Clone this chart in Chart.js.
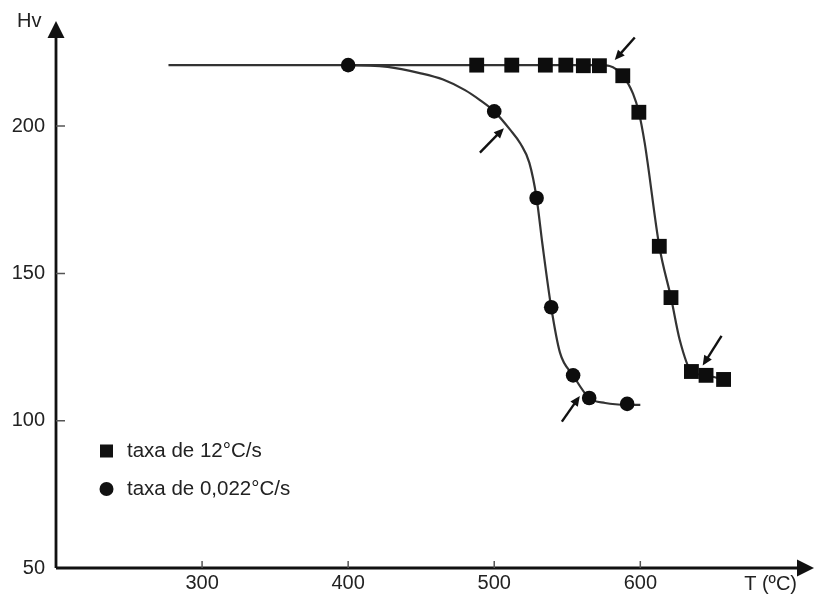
<!DOCTYPE html>
<html><head><meta charset="utf-8">
<script src="https://cdn.jsdelivr.net/npm/chart.js@4.4.0/dist/chart.umd.min.js"></script>
<style>html,body{margin:0;padding:0;background:#fff}#wrap{width:815px;height:595px;position:relative}</style>
</head><body><div id="wrap"><canvas id="c" width="815" height="595"></canvas></div>
<script>
const xTicks = [300, 400, 500, 600];
const yTicks = [50, 100, 150, 200];
const xTitle = 'T (ºC)';
const yTitle = 'Hv';
const fastLabel = 'taxa de 12°C/s';
const slowLabel = 'taxa de 0,022°C/s';
const fastT  = [488, 512, 535, 549, 561, 572, 588, 599, 613, 621, 635, 645, 657];
const fastHv = [220.7, 220.7, 220.7, 220.7, 220.5, 220.5, 217.1, 204.7, 159.2, 141.8, 116.7, 115.4, 114.0];
const slowT  = [400, 500, 529, 539, 554, 565, 591];
const slowHv = [220.7, 205.0, 175.6, 138.5, 115.4, 107.7, 105.7];
const fastCurveT  = [400, 572, 579, 588, 595, 599, 603, 605, 613, 621, 627, 635, 645, 654];
const fastCurveHv = [220.7, 220.7, 220.4, 217.1, 211.0, 204.7, 194.3, 187.6, 159.2, 141.8, 127.4, 116.7, 115.4, 114.4];
const slowCurveT  = [277, 400, 427, 449, 465, 480, 490, 500, 511, 518, 524, 529, 533, 539, 545, 554, 565, 576, 591, 600];
const slowCurveHv = [220.7, 220.7, 220.1, 218.0, 215.8, 212.2, 208.9, 205.0, 198.7, 194.0, 187.6, 175.6, 159.9, 138.5, 123.1, 115.4, 107.7, 106.0, 105.4, 105.4];
const arrowFrom = [[596.2, 230.1], [490.2, 191.0], [546.3, 99.7], [655.6, 128.8]];
const arrowTo   = [[582.5, 222.4], [506.6, 199.3], [558.6, 108.4], [642.7, 118.7]];

const FONT = '"Liberation Sans", Arial, sans-serif';
const pts = (xs, ys) => xs.map((x, i) => ({x, y: ys[i]}));

function arrowHead(ctx, x1, y1, x2, y2, len, half) {
  const a = Math.atan2(y2 - y1, x2 - x1);
  ctx.beginPath();
  ctx.moveTo(x2, y2);
  ctx.lineTo(x2 - len * Math.cos(a) + half * Math.sin(a), y2 - len * Math.sin(a) - half * Math.cos(a));
  ctx.lineTo(x2 - len * Math.cos(a) - half * Math.sin(a), y2 - len * Math.sin(a) + half * Math.cos(a));
  ctx.closePath();
  ctx.fill();
}

const decor = {
  id: 'decor',
  afterDatasetsDraw(chart) {
    const {ctx, chartArea: ca, scales: {x, y}} = chart;
    ctx.save();
    ctx.strokeStyle = '#111'; ctx.fillStyle = '#111';
    // axes
    ctx.lineWidth = 2.8;
    ctx.beginPath();
    ctx.moveTo(ca.left, ca.bottom); ctx.lineTo(ca.left, ca.top + 12);
    ctx.moveTo(ca.left, ca.bottom); ctx.lineTo(ca.right, ca.bottom);
    ctx.stroke();
    arrowHead(ctx, ca.left, ca.bottom, ca.left, ca.top - 2, 17, 8.5);
    arrowHead(ctx, ca.left, ca.bottom, ca.right + 13, ca.bottom, 17, 8.5);
    // tick marks (inward)
    ctx.lineWidth = 1.5; ctx.strokeStyle = '#555';
    ctx.beginPath();
    yTicks.forEach(v => { if (v > y.min) { const py = y.getPixelForValue(v); ctx.moveTo(ca.left, py); ctx.lineTo(ca.left + 9, py); } });
    xTicks.forEach(v => { const px = x.getPixelForValue(v); ctx.moveTo(px, ca.bottom); ctx.lineTo(px, ca.bottom - 7); });
    ctx.stroke();
    // annotation arrows
    ctx.strokeStyle = '#111'; ctx.fillStyle = '#111'; ctx.lineWidth = 2.4;
    arrowFrom.forEach((f, i) => {
      const x1 = x.getPixelForValue(f[0]), y1 = y.getPixelForValue(f[1]);
      const x2 = x.getPixelForValue(arrowTo[i][0]), y2 = y.getPixelForValue(arrowTo[i][1]);
      const a = Math.atan2(y2 - y1, x2 - x1);
      ctx.beginPath(); ctx.moveTo(x1, y1); ctx.lineTo(x2 - 6 * Math.cos(a), y2 - 6 * Math.sin(a)); ctx.stroke();
      arrowHead(ctx, x1, y1, x2, y2, 10, 4.5);
    });
    // titles
    ctx.fillStyle = '#222';
    ctx.font = '20px ' + FONT;
    ctx.textBaseline = 'middle';
    ctx.textAlign = 'left';
    ctx.fillText(yTitle, 17, 21);
    ctx.textAlign = 'right';
    ctx.fillText(xTitle, 797, 584);
    // legend
    ctx.font = '20.5px ' + FONT;
    ctx.textAlign = 'left';
    const lx = 106.5, ly1 = 451, ly2 = 489;
    ctx.fillStyle = '#111';
    ctx.fillRect(lx - 6.5, ly1 - 6.5, 13, 13);
    ctx.beginPath(); ctx.arc(lx, ly2, 7, 0, Math.PI * 2); ctx.fill();
    ctx.fillStyle = '#222';
    ctx.fillText(fastLabel, 127, ly1);
    ctx.fillText(slowLabel, 127, ly2);
    ctx.restore();
  }
};

new Chart(document.getElementById('c'), {
  type: 'scatter',
  data: {
    datasets: [
      {label: fastLabel, data: pts(fastT, fastHv), pointStyle: 'rect', pointRadius: 10.5, pointHoverRadius: 10.5,
       backgroundColor: '#0d0d0d', borderColor: '#0d0d0d', borderWidth: 0, showLine: false, order: 1},
      {label: slowLabel, data: pts(slowT, slowHv), pointStyle: 'circle', pointRadius: 7.3, pointHoverRadius: 7.3,
       backgroundColor: '#0d0d0d', borderColor: '#0d0d0d', borderWidth: 0, showLine: false, order: 1},
      {label: 'fastCurve', data: pts(fastCurveT, fastCurveHv), showLine: true, pointRadius: 0, borderColor: '#333',
       borderWidth: 2.2, cubicInterpolationMode: 'monotone', order: 2},
      {label: 'slowCurve', data: pts(slowCurveT, slowCurveHv), showLine: true, pointRadius: 0, borderColor: '#333',
       borderWidth: 2.2, cubicInterpolationMode: 'monotone', order: 2}
    ]
  },
  options: {
    responsive: false, animation: false, maintainAspectRatio: false,
    layout: {padding: {left: 0, right: 14, top: 18, bottom: 0}},
    plugins: {legend: {display: false}, tooltip: {enabled: false}},
    scales: {
      x: {
        type: 'linear', min: 200, max: 710,
        afterBuildTicks: s => { s.ticks = xTicks.map(v => ({value: v})); },
        afterFit: s => { s.height = 27; },
        grid: {display: false, drawTicks: false, tickLength: 0}, border: {display: false},
        ticks: {padding: 3, color: '#222', font: {family: FONT, size: 20}, maxRotation: 0, autoSkip: false}
      },
      y: {
        type: 'linear', min: 50, max: 235,
        afterBuildTicks: s => { s.ticks = yTicks.map(v => ({value: v})); },
        afterFit: s => { s.width = 56; },
        grid: {display: false, drawTicks: false, tickLength: 0}, border: {display: false},
        ticks: {padding: 11, color: '#222', font: {family: FONT, size: 20}, autoSkip: false}
      }
    }
  },
  plugins: [decor]
});
</script></body></html>
